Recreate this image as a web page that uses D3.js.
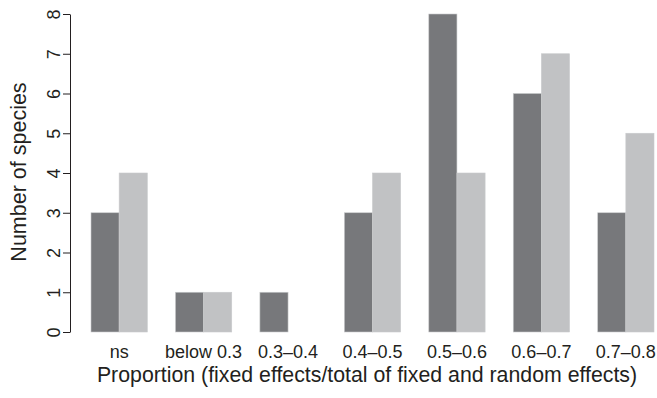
<!DOCTYPE html>
<html>
<head>
<meta charset="utf-8">
<script src="https://cdn.jsdelivr.net/npm/d3@7"></script>
<style>
  html, body { margin: 0; padding: 0; background: #fff; }
  svg { display: block; }
  text { font-family: "Liberation Sans", Arial, Helvetica, sans-serif; fill: #231f20; }
</style>
</head>
<body>
<svg id="chart" width="657" height="398"></svg>
<script>
// Proportion classes along the x axis
const categories = ["ns", "below 0.3", "0.3\u20130.4", "0.4\u20130.5", "0.5\u20130.6", "0.6\u20130.7", "0.7\u20130.8"];
// Number of species per class, two series (dark and light bars)
const seriesA = [3, 1, 1, 3, 8, 6, 3];
const seriesB = [4, 1, 0, 4, 4, 7, 5];
const seriesNames = ["A", "B"];
const yTicks = [0, 1, 2, 3, 4, 5, 6, 7, 8];

const xTitle = "Proportion (fixed effects/total of fixed and random effects)";
const yTitle = "Number of species";

const svg = d3.select("#chart");

const plotLeft = 91, plotRight = 654, plotTop = 14, plotBottom = 332;

const x = d3.scaleBand()
  .domain(categories)
  .range([plotLeft, plotRight])
  .paddingInner(1 / 3)
  .paddingOuter(0);

const xInner = d3.scaleBand()
  .domain(seriesNames)
  .range([0, x.bandwidth()]);

const y = d3.scaleLinear().domain([0, 8]).range([plotBottom, plotTop]);

const colors = { A: "#77787b", B: "#c1c2c4" };

const rows = categories.map((c, i) => ({ cat: c, A: seriesA[i], B: seriesB[i] }));

// Bars
const groups = svg.append("g").selectAll("g")
  .data(rows)
  .join("g")
  .attr("transform", d => `translate(${x(d.cat)},0)`);

groups.selectAll("rect")
  .data(d => seriesNames.map(s => ({ s, v: d[s] })))
  .join("rect")
  .attr("x", d => xInner(d.s))
  .attr("width", xInner.bandwidth())
  .attr("y", d => y(d.v))
  .attr("height", d => y(0) - y(d.v))
  .attr("fill", d => colors[d.s])
  .attr("stroke", "#c9cacc")
  .attr("stroke-width", 0.6);

// Y axis (tick labels rotated, as in base R graphics)
const yAxis = svg.append("g")
  .attr("transform", `translate(70,0)`)
  .call(d3.axisLeft(y).tickValues(yTicks).tickSize(7).tickSizeOuter(0).tickFormat(d3.format("d")));

yAxis.select(".domain").attr("stroke", "#231f20").attr("stroke-width", 1);
yAxis.selectAll(".tick line").attr("stroke", "#231f20").attr("stroke-width", 1);
yAxis.selectAll(".tick text")
  .attr("x", 0)
  .attr("dy", 0)
  .attr("transform", "translate(-10,0) rotate(-90)")
  .attr("text-anchor", "middle")
  .style("font-size", "18px")
  .style("font-family", "'Liberation Sans', Arial, sans-serif")
  .attr("fill", "#231f20");

// X category labels
svg.append("g").selectAll("text")
  .data(categories)
  .join("text")
  .attr("x", d => x(d) + x.bandwidth() / 2)
  .attr("y", 358)
  .attr("text-anchor", "middle")
  .style("font-size", "18px")
  .text(d => d);

// Axis titles
svg.append("text")
  .attr("x", 367)
  .attr("y", 382)
  .attr("text-anchor", "middle")
  .style("font-size", "21.3px")
  .text(xTitle);

svg.append("text")
  .attr("transform", `translate(26,172) rotate(-90)`)
  .attr("text-anchor", "middle")
  .style("font-size", "21.5px")
  .text(yTitle);
</script>
</body>
</html>
